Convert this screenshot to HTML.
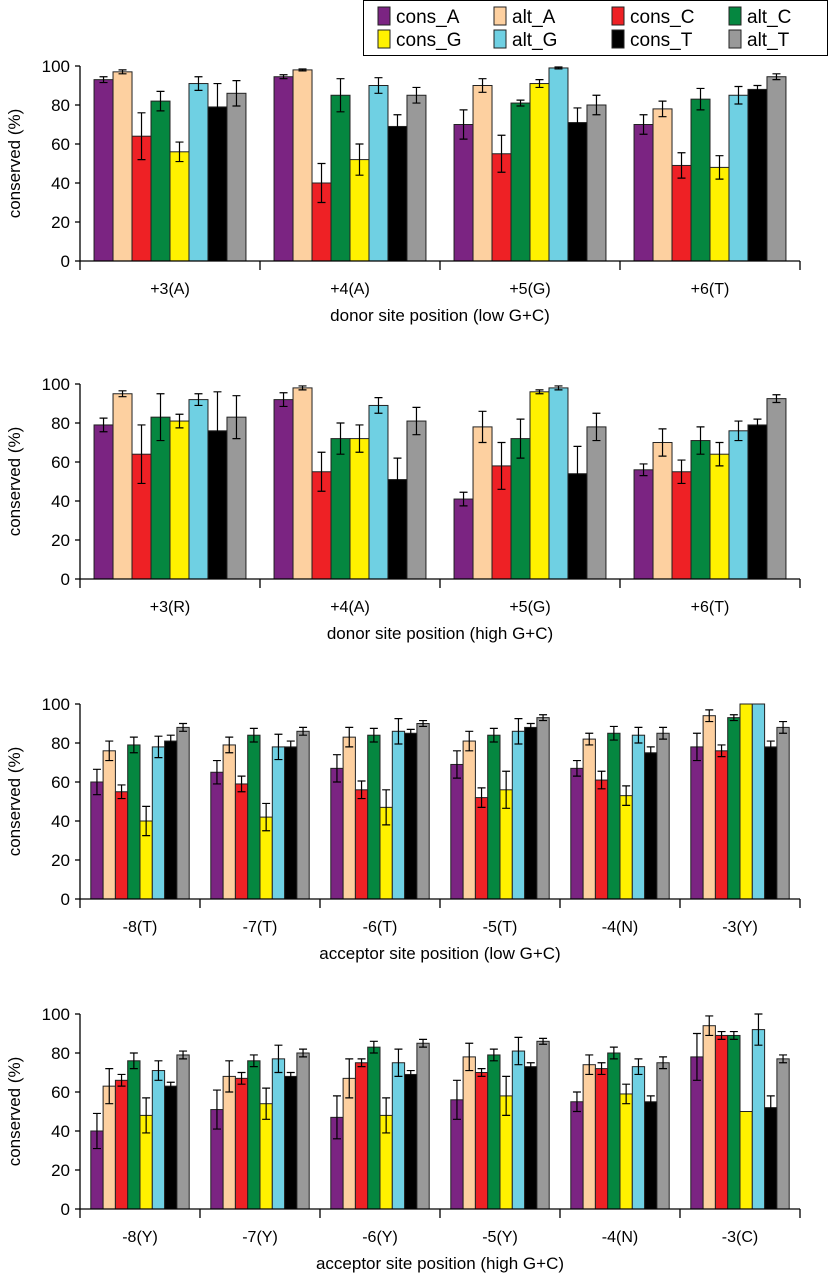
<!DOCTYPE html>
<html><head><meta charset="utf-8"><style>
html,body{margin:0;padding:0;background:#fff;}
svg text{font-family:"Liberation Sans",sans-serif;}
</style></head><body>
<svg id="chart" width="829" height="1280" viewBox="0 0 829 1280" xmlns="http://www.w3.org/2000/svg"></svg>
<script>
const seriesNames = ["cons_A","alt_A","cons_C","alt_C","cons_G","alt_G","cons_T","alt_T"];
const seriesColors = ["#7b2482","#fdd0a0","#ee2125","#058740","#fff100","#6fd0e3","#000000","#999999"];
const yTicks = [0,20,40,60,80,100];

const p1Cats = ["+3(A)","+4(A)","+5(G)","+6(T)"];
const p1Vals = [[93,97,64,82,56,91,79,86],[94.5,98,40,85,52,90,69,85],[70,90,55,81,91,99,71,80],[70,78,49,83,48,85,88,94.5]];
const p1Errs = [[1.5,1,12,5,5,3.5,12,6.5],[1,0.5,10,8.5,8,4,6,4],[7.5,3.5,9.5,1.5,2,0.5,7.5,5],[5,4,6.5,5.5,6,4.5,2,1.5]];

const p2Cats = ["+3(R)","+4(A)","+5(G)","+6(T)"];
const p2Vals = [[79,95,64,83,81,92,76,83],[92,98,55,72,72,89,51,81],[41,78,58,72,96,98,54,78],[56,70,55,71,64,76,79,92.5]];
const p2Errs = [[3.5,1.5,15,12,3.5,3,20,11],[3.5,1,10,8,7,4,11,7],[3.5,8,12,10,1,1,14,7],[3,7,6,7,6,5,3,2]];

const p3Cats = ["-8(T)","-7(T)","-6(T)","-5(T)","-4(N)","-3(Y)"];
const p3Vals = [[60,76,55,79,40,78,81,88],[65,79,59,84,42,78,78,86],[67,83,56,84,47,86,85,90],[69,81,52,84,56,86,88,93],[67,82,61,85,53,84,75,85],[78,94,76,93,100,100,78,88]];
const p3Errs = [[6.5,5,3.5,4,7.5,5.5,3,2],[6,4,4,3.5,7,6.5,3,2],[7,5,4.5,3.5,9,6.5,2,1.5],[7,5,5,3.5,9.5,6.5,2,1.5],[4,3,4.5,3.5,5,4,3,3],[7,3,3,1.5,0,0,3,3]];

const p4Cats = ["-8(Y)","-7(Y)","-6(Y)","-5(Y)","-4(N)","-3(C)"];
const p4Vals = [[40,63,66,76,48,71,63,79],[51,68,67,76,54,77,68,80],[47,67,75,83,48,75,69,85],[56,78,70,79,58,81,73,86],[55,74,72,80,59,73,55,75],[78,94,89,89,50,92,52,77]];
const p4Errs = [[9,9,3,4,9,5,2,2],[10,8,3,3,8,7,2,2],[11,10,2,3,9,7,2,2],[10,7,2,3,10,7,2,1.5],[5,5,3,3,5,4,3,3],[12,5,2,2,0,8,6,2]];

const NS="http://www.w3.org/2000/svg";
const svg=document.getElementById("chart");
function mk(tag,attrs,parent){const e=document.createElementNS(NS,tag);for(const k in attrs)e.setAttribute(k,attrs[k]);(parent||svg).appendChild(e);return e;}

function panel(idx,cats,vals,errs,title,yTop,yBot,gapFrac){
  const g=mk("g",{});
  
  
  const x0=80,x1=800;
  const y=v=>yBot-(yBot-yTop)*v/100;
  const cw=(x1-x0)/cats.length;
  const gap=cw*gapFrac;
  const bw=(cw-2*gap)/8;
  // y ticks
  yTicks.forEach(t=>{
    mk("line",{x1:x0-5,x2:x0,y1:y(t),y2:y(t),stroke:"#000","stroke-width":1.3},g);
    const tx=mk("text",{x:x0-10,y:y(t)+6,"text-anchor":"end","font-size":17},g);
    tx.textContent=t;
    
    
  });
  const yt=mk("text",{x:0,y:0,"text-anchor":"middle","font-size":17,transform:`translate(20,${(yTop+yBot)/2}) rotate(-90)`},g);
  yt.textContent="conserved (%)";
  
  
  cats.forEach((c,i)=>{
    const cx=x0+i*cw;
    vals[i].forEach((v,s)=>{
      const bx=cx+gap+s*bw;
      const r=mk("rect",{x:bx,y:y(v),width:bw,height:y(0)-y(v),fill:seriesColors[s],stroke:"#222","stroke-width":1},g);
      
      
      const e=errs[i][s];
      if(e>0){
        const mx=bx+bw/2, hi=Math.min(100,v+e), lo=v-e;
        const el=mk("path",{d:`M${mx},${y(hi)}V${y(lo)}M${mx-4},${y(hi)}H${mx+4}M${mx-4},${y(lo)}H${mx+4}`,stroke:"#000","stroke-width":1.2,fill:"none"},g);
        
        
      }
    });
    const lb=mk("text",{x:cx+cw/2,y:yBot+33,"text-anchor":"middle","font-size":16},g);
    lb.textContent=c;
    
    
  });
  for(let i=0;i<=cats.length;i++){
    mk("line",{x1:x0+i*cw,x2:x0+i*cw,y1:yBot,y2:yBot+9,stroke:"#000","stroke-width":1.3},g);
  }
  mk("line",{x1:x0,x2:x0,y1:yTop,y2:yBot,stroke:"#000","stroke-width":1.3},g);
  mk("line",{x1:x0,x2:x1,y1:yBot,y2:yBot,stroke:"#000","stroke-width":1.3},g);
  const xt=mk("text",{x:(x0+x1)/2,y:yBot+60,"text-anchor":"middle","font-size":17},g);
  xt.textContent=title;
  
  
}
panel(1,p1Cats,p1Vals,p1Errs,"donor site position (low G+C)",66,261,0.078);
panel(2,p2Cats,p2Vals,p2Errs,"donor site position (high G+C)",384,579,0.078);
panel(3,p3Cats,p3Vals,p3Errs,"acceptor site position (low G+C)",704,899,0.09);
panel(4,p4Cats,p4Vals,p4Errs,"acceptor site position (high G+C)",1014,1209,0.09);

// legend
const lg=mk("g",{});


mk("rect",{x:363.5,y:0.5,width:464,height:55,fill:"#fff",stroke:"#000","stroke-width":1},lg);
const legX=[378,494,612,729];
seriesNames.forEach((n,s)=>{
  const col=s%4,row=Math.floor(s/4);
  const lx=legX[col], ly=row?39:16;
  const sw=mk("rect",{x:lx,y:ly-9,width:12,height:18,fill:seriesColors[s],stroke:"#222","stroke-width":1},lg);
  
  
  const t=mk("text",{x:lx+18,y:ly+7,"font-size":19},lg);
  t.textContent=n;
  
  
});
</script>
</body></html>
